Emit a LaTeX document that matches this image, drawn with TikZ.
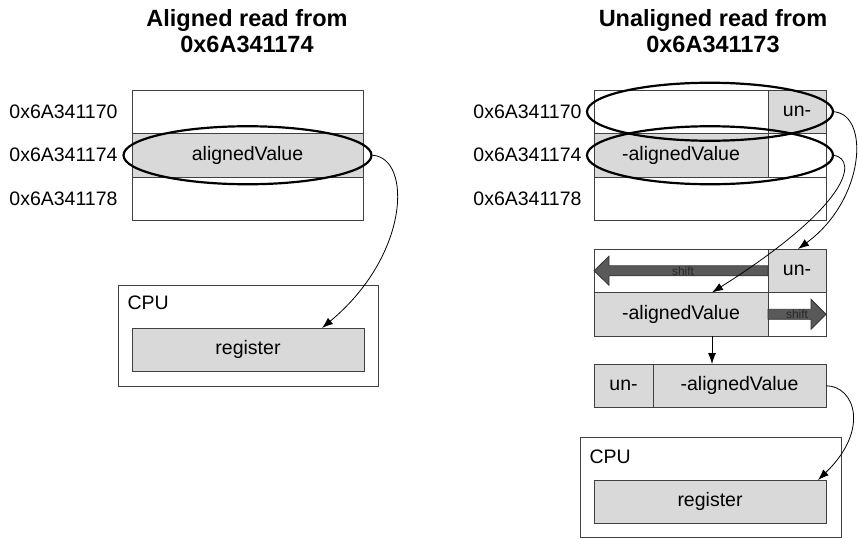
\documentclass[tikz,border=0pt]{standalone}
\usepackage{fontspec}
\setmainfont{Liberation Sans}
\usetikzlibrary{positioning,shapes.geometric,arrows.meta}

\begin{document}
\begin{tikzpicture}[x=1pt,y=-1pt,line width=1pt,font=\fontsize{19.5}{22}\selectfont,
  cell/.style={draw=black!75,minimum height=43.5pt,inner sep=0,outer sep=0,anchor=north west},
  val/.style={cell,fill=black!15},
  addr/.style={inner sep=0},
  sel/.style={draw,ellipse,line width=2.2pt,inner sep=0,minimum height=58pt},
  conn/.style={-{Latex[length=11pt,width=8pt]},line width=.8pt},
  title/.style={font=\fontsize{23.5}{26}\selectfont\bfseries,align=center},
  shiftarr/.style={draw=black!80,fill=black!65,line width=.8pt},
  tiny/.style={font=\fontsize{12}{12}\selectfont,inner sep=0,text=black!85}]
\useasboundingbox (0,0) rectangle (858,538);
% aligned read
\node[title] (lhead) at (247,31) {Aligned read from\\0x6A341174};
\node[cell,minimum width=231pt] (lm0) at (132,90) {};
\node[val,minimum width=231pt] (lm1) at (132,133.5) {alignedValue};
\node[cell,minimum width=231pt] (lm2) at (132,177) {};
\node[addr,left=14pt of lm0] (la0) {0x6A341170};
\node[addr,left=14pt of lm1] (la1) {0x6A341174};
\node[addr,left=14pt of lm2] (la2) {0x6A341178};
\node[sel,minimum width=248pt] (lsel) at (lm1) {};
\node[cell,minimum width=260pt,minimum height=101pt] (lcpu) at (118,285) {};
\node[inner sep=0,anchor=west] (lcpuname) at ([xshift=9pt,yshift=-18pt]lcpu.north west) {CPU};
\node[val,minimum width=232pt] (lreg) at (132,328) {register};
\draw[conn] (lsel.east) .. controls (412,158) and (410,255) .. ([xshift=-42pt]lreg.north east);
% unaligned read
\node[title] (rhead) at (713,31) {Unaligned read from\\0x6A341173};
\node[cell,minimum width=174pt] (rm0) at (594,90) {};
\node[val,minimum width=58pt] (rm0b) at (768,90) {un-};
\node[val,minimum width=174pt] (rm1) at (594,133.5) {-alignedValue};
\node[cell,minimum width=58pt] (rm1b) at (768,133.5) {};
\node[cell,minimum width=232pt] (rm2) at (594,177) {};
\node[addr,left=12pt of rm0] (ra0) {0x6A341170};
\node[addr,left=12pt of rm1] (ra1) {0x6A341174};
\node[addr,left=12pt of rm2] (ra2) {0x6A341178};
\node[sel,minimum width=246pt] (rsel0) at (710,111.75) {};
\node[sel,minimum width=246pt] (rsel1) at (710,155.25) {};
% shifting
\node[cell,minimum width=174pt] (sm0) at (594,249) {};
\node[val,minimum width=58pt] (sm0b) at (768,249) {un-};
\node[val,minimum width=174pt] (sm1) at (594,292.5) {-alignedValue};
\node[cell,minimum width=58pt] (sm1b) at (768,292.5) {};
\draw[shiftarr] (768,265.75) -- (609,265.75) -- (609,256.25) -- (594,270.75) -- (609,285.25) -- (609,275.75) -- (768,275.75) -- cycle;
\draw[shiftarr] (768,309.25) -- (811,309.25) -- (811,299.25) -- (826,314.25) -- (811,329.25) -- (811,319.25) -- (768,319.25) -- cycle;
\node[tiny] (lshift) at (683,270.75) {shift};
\node[tiny] (rshift) at (797,314.25) {shift};
\node[val,minimum width=59pt] (res0) at (594,364) {un-};
\node[val,minimum width=173pt] (res1) at (653,364) {-alignedValue};
\node[cell,minimum width=261pt,minimum height=100pt] (rcpu) at (580,437) {};
\node[inner sep=0,anchor=west] (rcpuname) at ([xshift=9pt,yshift=-20pt]rcpu.north west) {CPU};
\node[val,minimum width=232pt] (rreg) at (594,480) {register};
\draw[conn] (rsel0.east) .. controls (870,115) and (865,200) .. ([xshift=-28pt]sm0b.north east);
\draw[conn] (rsel1.east) .. controls (858,160) and (850,205) .. ([xshift=31pt]sm1.north);
\draw[conn] ([xshift=31pt]sm1.south) -- ([xshift=31pt]sm1.south |- res1.north);
\draw[conn] (res1.east) .. controls (855,386) and (870,430) .. ([xshift=-8pt]rreg.north east);
\end{tikzpicture}
\end{document}
